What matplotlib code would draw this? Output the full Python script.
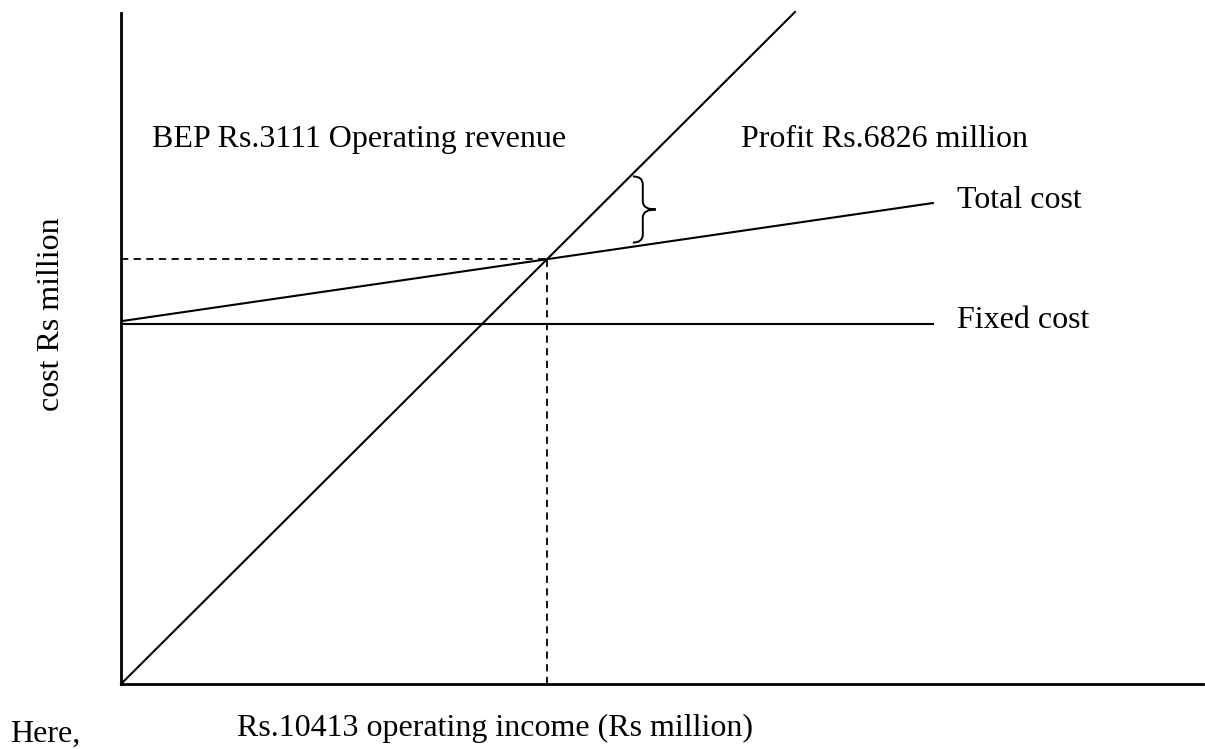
import matplotlib.pyplot as plt
from matplotlib.path import Path
from matplotlib.patches import PathPatch

plt.rcParams['font.family'] = ['Liberation Serif', 'DejaVu Serif']

# values in Rs million (no ticks in the original)
income_max = 7830
cost_max = 4855
revenue_x = [0, 4877]
revenue_y = [0, 4862]
total_cost_x = [0, 5875]
total_cost_y = [2625, 3480]
fixed_cost_x = [0, 5875]
fixed_cost_y = [2605, 2605]

labels = {
    'bep': 'BEP Rs.3111 Operating revenue',
    'profit': 'Profit Rs.6826 million',
    'total': 'Total cost',
    'fixed': 'Fixed cost',
    'ylabel': 'cost Rs million',
    'xlabel': 'Rs.10413 operating income (Rs million)',
    'note': 'Here,',
}

fig = plt.figure(figsize=(12.05, 7.49), dpi=100)
ax = fig.add_axes([121 / 1205, 65 / 749, 1082 / 1205, 671 / 749])
ax.set_xlim(0, income_max)
ax.set_ylim(0, cost_max)
for s in ['top', 'right']:
    ax.spines[s].set_visible(False)
for s in ['left', 'bottom']:
    ax.spines[s].set_linewidth(2)
ax.set_xticks([])
ax.set_yticks([])

lw = 1.5
ax.plot(revenue_x, revenue_y, color='black', lw=lw, clip_on=False)
ax.plot(total_cost_x, total_cost_y, color='black', lw=lw)
ax.plot(fixed_cost_x, fixed_cost_y, color='black', lw=lw)

# break-even point: where revenue meets total cost
rs = revenue_y[1] / revenue_x[1]
tc_slope = (total_cost_y[1] - total_cost_y[0]) / (total_cost_x[1] - total_cost_x[0])
bep_x = total_cost_y[0] / (rs - tc_slope)
bep_y = rs * bep_x
ax.plot([0, bep_x], [bep_y, bep_y], color='black', lw=1.3, ls=(0, (4, 3)))
ax.plot([bep_x, bep_x], [0, bep_y], color='black', lw=1.3, ls=(0, (4, 3)))

# brace marking the profit gap
xb = 3704
yt = rs * xb - 20
yb = total_cost_y[0] + tc_slope * xb + 30
ym = (yt + yb) / 2
w1, w2, c = 72, 166, 58
verts = [(xb, yt), (xb + w1, yt), (xb + w1, yt - c),
         (xb + w1, ym + c),
         (xb + w1, ym), (xb + w2, ym),
         (xb + w1, ym), (xb + w1, ym - c),
         (xb + w1, yb + c),
         (xb + w1, yb), (xb, yb)]
codes = [Path.MOVETO, Path.CURVE3, Path.CURVE3, Path.LINETO,
         Path.CURVE3, Path.CURVE3, Path.CURVE3, Path.CURVE3,
         Path.LINETO, Path.CURVE3, Path.CURVE3]
ax.add_patch(PathPatch(Path(verts, codes), fill=False, lw=1.4, color='black'))

fs = 23
ax.text(224, 3885, labels['bep'], fontsize=fs, va='baseline', ha='left')
ax.text(4486, 3885, labels['profit'], fontsize=fs, va='baseline', ha='left')
ax.text(total_cost_x[1] + 173, 3444, labels['total'], fontsize=fs, va='baseline', ha='left')
ax.text(fixed_cost_x[1] + 173, 2576, labels['fixed'], fontsize=fs, va='baseline', ha='left')

fig.text(52 / 1205, 1 - 314 / 749, labels['ylabel'], fontsize=fs, rotation=90,
         ha='center', va='center')
fig.text(237 / 1205, 1 - 736 / 749, labels['xlabel'], fontsize=fs, ha='left', va='baseline')
fig.text(10 / 1205, 1 - 742 / 749, labels['note'], fontsize=fs, ha='left', va='baseline')

fig.savefig('out.png', dpi=100)
